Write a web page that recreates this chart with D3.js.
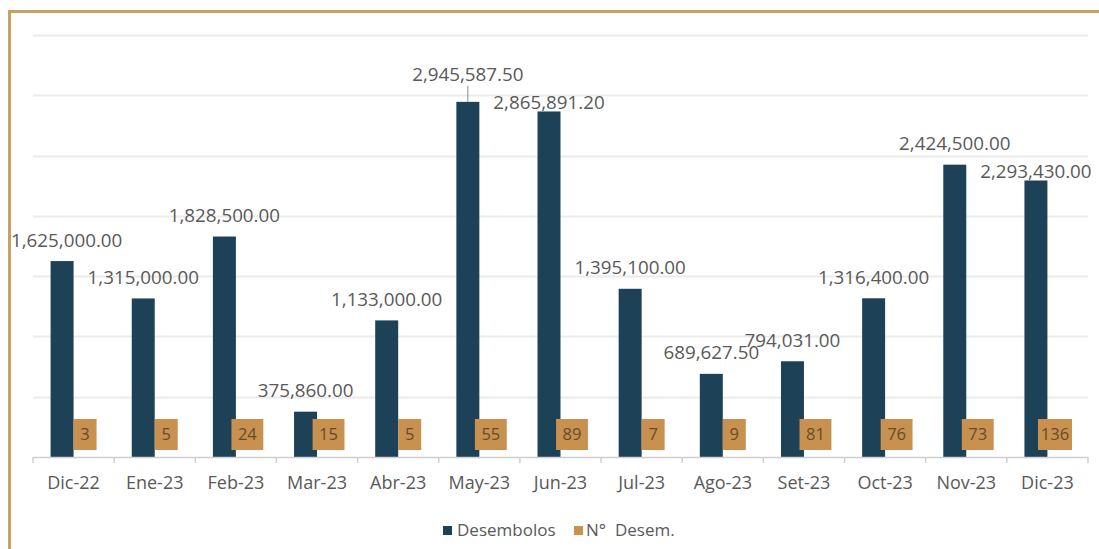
<!DOCTYPE html>
<html><head><meta charset="utf-8">
<script src="https://cdn.jsdelivr.net/npm/d3@7/dist/d3.min.js"></script>
<style>html,body{margin:0;padding:0;background:#fff;}svg{display:block;font-family:"Open Sans",sans-serif;}</style>
</head><body><svg id="c" width="1099" height="549"></svg>
<script>
const categories = ["Dic-22","Ene-23","Feb-23","Mar-23","Abr-23","May-23","Jun-23","Jul-23","Ago-23","Set-23","Oct-23","Nov-23","Dic-23"];
const desembolos = [1625000.00,1315000.00,1828500.00,375860.00,1133000.00,2945587.50,2865891.20,1395100.00,689627.50,794031.00,1316400.00,2424500.00,2293430.00];
const numDesem = [3,5,24,15,5,55,89,7,9,81,76,73,136];
const seriesNames = ["Desembolos","N°  Desem."];
const yTicks = [0,500000,1000000,1500000,2000000,2500000,3000000,3500000];

const colors = {dark:"#1d4257", orange:"#c8914f", text:"#595959", grid:"#ebebeb", axis:"#cfcfcf", frame:"#c4a266", boxText:"#664b2a"};
// manual label nudges as in the original (px, positive = lower)
const labelNudge = {"May-23": -6, "Jun-23": 12, "Dic-23": 12};

const svg = d3.select("#c");
const plotLeft = 33, plotRight = 1088, plotTop = 35, plotBase = 457;

const x0 = d3.scaleBand().domain(categories).range([plotLeft, plotRight]).paddingInner(0).paddingOuter(0);
const x1 = d3.scaleBand().domain(seriesNames).range([0, x0.bandwidth()]).paddingOuter(0.765).paddingInner(0);
const y = d3.scaleLinear().domain([0, 3500000]).range([plotBase, plotTop]);

// frame
svg.append("path").attr("d", `M9.5,549 L9.5,11.5 L1099,11.5`).attr("fill","none")
  .attr("stroke", colors.frame).attr("stroke-width",3);

// gridlines
svg.append("g").selectAll("line").data(yTicks.filter(d=>d>0)).join("line")
  .attr("x1", plotLeft).attr("x2", plotRight).attr("y1", d=>Math.round(y(d))+0.5).attr("y2", d=>Math.round(y(d))+0.5)
  .attr("stroke", colors.grid).attr("stroke-width", 2);

// dark bars
svg.append("g").selectAll("rect").data(categories).join("rect")
  .attr("x", (c)=>x0(c)+x1(seriesNames[0]))
  .attr("width", x1.bandwidth())
  .attr("y", (c,i)=>y(desembolos[i]))
  .attr("height", (c,i)=>plotBase - y(desembolos[i]))
  .attr("fill", colors.dark);

// orange bars (tiny on this scale)
svg.append("g").selectAll("rect").data(categories).join("rect")
  .attr("x", (c)=>x0(c)+x1(seriesNames[1]))
  .attr("width", x1.bandwidth())
  .attr("y", (c,i)=>y(numDesem[i]))
  .attr("height", (c,i)=>plotBase - y(numDesem[i]))
  .attr("fill", colors.orange);

// x axis
const xAxis = svg.append("g");
xAxis.append("line").attr("x1", plotLeft).attr("x2", plotRight).attr("y1", plotBase+0.5).attr("y2", plotBase+0.5)
  .attr("stroke", colors.axis).attr("stroke-width",1.5);
const edges = categories.map(c=>x0(c)).concat([plotRight]);
xAxis.selectAll("line.t").data(edges).join("line").attr("class","t")
  .attr("x1", d=>d).attr("x2", d=>d).attr("y1", plotBase).attr("y2", plotBase+6)
  .attr("stroke", colors.axis).attr("stroke-width",1.5);
xAxis.selectAll("text").data(categories).join("text")
  .attr("x", c=>x0(c)+x0.bandwidth()/2).attr("y", 483).attr("dy","0.35em")
  .attr("text-anchor","middle").attr("font-size", 18).attr("fill", colors.text).text(c=>c);

// value labels for Desembolos
const fmt = d3.format(",.2f");
const vl = svg.append("g");
categories.forEach((c,i)=>{
  const cx = x0(c)+x1(seriesNames[0])+x1.bandwidth()/2;
  const cy = y(desembolos[i]) - 21 + (labelNudge[c]||0);
  const t = vl.append("text").attr("y", cy).attr("dy","0.35em").attr("text-anchor","middle")
    .attr("font-size",18.8).attr("fill", colors.text).text(fmt(desembolos[i]));
  const w = t.node().getComputedTextLength();
  let tx = cx;
  if (tx - w/2 < 11) tx = 11 + w/2;
  t.attr("x", tx);
  if ((labelNudge[c]||0) < 0) {
    vl.append("line").attr("x1", cx).attr("x2", cx).attr("y1", cy+11).attr("y2", y(desembolos[i]))
      .attr("stroke", "#8c8c8c").attr("stroke-width",1);
  }
});

// N° Desem. labels (boxes)
const bl = svg.append("g");
categories.forEach((c,i)=>{
  const cx = x0(c)+x1(seriesNames[1])+x1.bandwidth()/2;
  const g = bl.append("g");
  const r = g.append("rect").attr("fill", colors.orange);
  const t = g.append("text").attr("y", 434.5).attr("dy","0.35em").attr("text-anchor","middle")
    .attr("font-size",16.5).attr("fill", colors.boxText).text(numDesem[i]);
  const w = t.node().getComputedTextLength();
  const bw = Math.max(23, Math.min(34, w + 13));
  let bx = cx - bw/2;
  if (bx + bw > plotRight - 16) bx = plotRight - 16 - bw;
  r.attr("x", bx).attr("width", bw).attr("y", 419).attr("height", 31);
  t.attr("x", bx + bw/2);
});

// legend
const lg = svg.append("g");
lg.append("rect").attr("x",443).attr("y",526).attr("width",9).attr("height",9).attr("fill",colors.dark);
lg.append("text").attr("x",457).attr("y",530).attr("dy","0.35em").attr("font-size",17).attr("fill",colors.text).text(seriesNames[0]);
lg.append("rect").attr("x",574).attr("y",526).attr("width",9).attr("height",9).attr("fill",colors.orange);
lg.append("text").attr("x",586).attr("y",530).attr("dy","0.35em").attr("font-size",17).attr("fill",colors.text)
  .attr("xml:space","preserve").style("white-space","pre").text(seriesNames[1]);
</script></body></html>
